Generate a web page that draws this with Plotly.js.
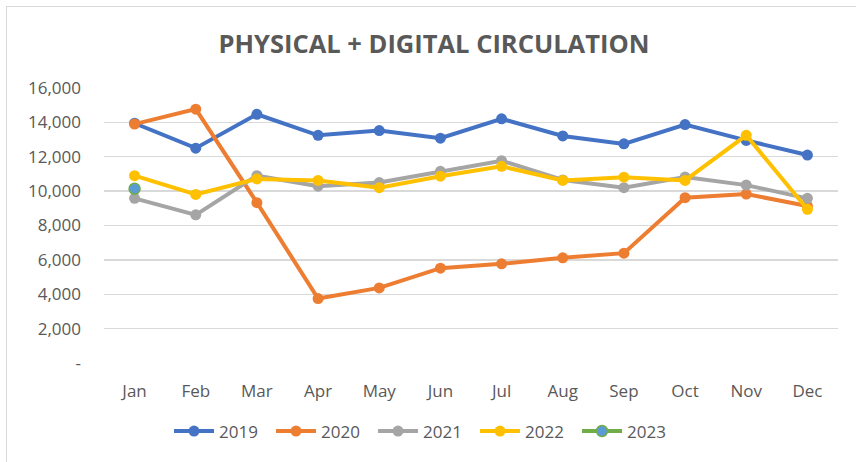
<!DOCTYPE html>
<html>
<head>
<meta charset="utf-8">
<script src="https://cdn.plot.ly/plotly-3.0.1.min.js"></script>
<style>
  html, body { margin: 0; padding: 0; background: #fff; }
  #wrap { position: relative; width: 856px; height: 462px; overflow: hidden; }
  #chart { width: 856px; height: 462px; }
  #frame { position: absolute; left: 6px; top: 6px; width: 900px; height: 500px;
           border-top: 1px solid #D9D9D9; border-left: 1px solid #D9D9D9; pointer-events: none; }
</style>
</head>
<body>
<div id="wrap"><div id="chart"></div><div id="frame"></div></div>
<script>
const months = ["Jan","Feb","Mar","Apr","May","Jun","Jul","Aug","Sep","Oct","Nov","Dec"];
const y2019 = [13950, 12500, 14470, 13250, 13520, 13080, 14210, 13210, 12750, 13870, 12950, 12100];
const y2020 = [13900, 14770, 9330, 3750, 4370, 5520, 5770, 6120, 6390, 9620, 9830, 9130];
const y2021 = [9580, 8620, 10900, 10290, 10500, 11150, 11770, 10650, 10200, 10820, 10350, 9580];
const y2022 = [10900, 9810, 10710, 10620, 10200, 10870, 11440, 10620, 10810, 10620, 13250, 8940];
const y2023 = [10140, null, null, null, null, null, null, null, null, null, null, null];
const yTickVals = [0, 2000, 4000, 6000, 8000, 10000, 12000, 14000, 16000];
const yTickText = ["-", "2,000", "4,000", "6,000", "8,000", "10,000", "12,000", "14,000", "16,000"];

function series(name, y, color, mcolor, mline) {
  return {
    x: months, y: y, name: name, type: "scatter", mode: "lines+markers",
    line: { color: color, width: 4 },
    marker: { color: mcolor || color, size: 11, line: { color: mline || mcolor || color, width: mline ? 1.5 : 0 } },
    hoverinfo: "none"
  };
}

const data = [
  series("2019", y2019, "#4472C4"),
  series("2020", y2020, "#ED7D31"),
  series("2021", y2021, "#A5A5A5"),
  series("2022", y2022, "#FFC000"),
  series("2023", y2023, "#70AD47", "#5B9BD5", "#70AD47")
];

const font = "'Open Sans', sans-serif";
const layout = {
  width: 856, height: 462,
  margin: { l: 104, r: 18, t: 88, b: 97 },
  paper_bgcolor: "#fff", plot_bgcolor: "#fff",
  showlegend: true,
  font: { family: font, color: "#595959", size: 17 },
  title: { text: "<b>PHYSICAL + DIGITAL CIRCULATION</b>", x: 0.507, xanchor: "center", y: 0.905, yanchor: "middle",
           font: { family: font, size: 25.5, color: "#595959" } },
  xaxis: {
    type: "category", range: [-0.5, 11.5], showgrid: false, zeroline: false, showline: false,
    ticks: "", ticklabelstandoff: 16, tickfont: { size: 17, color: "#595959" }, fixedrange: true
  },
  yaxis: {
    range: [0, 16000], tickvals: yTickVals, ticktext: yTickText,
    showgrid: true, gridcolor: "#D9D9D9", gridwidth: 1.3, zeroline: false, showline: false,
    ticks: "", ticklabelstandoff: 22, tickfont: { size: 17, color: "#595959" }, fixedrange: true
  },
  legend: {
    orientation: "h", x: 0.436, xanchor: "center", y: -0.249, yanchor: "middle",
    font: { size: 17, color: "#595959" }, traceorder: "normal", itemwidth: 40,
    entrywidth: 47, entrywidthmode: "pixels"
  }
};

Plotly.newPlot("chart", data, layout, { displayModeBar: false, staticPlot: true });
</script>
</body>
</html>
